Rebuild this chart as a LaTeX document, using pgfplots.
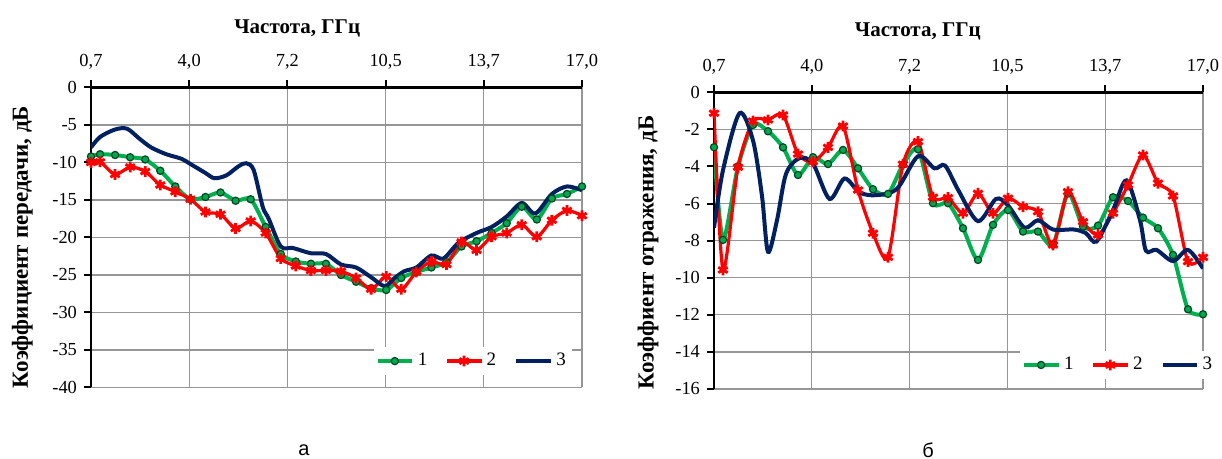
\documentclass[border=0pt]{standalone}
\usepackage{fontspec}
\setmainfont{Liberation Serif}
\newfontfamily\arialfont{Liberation Sans}
\usepackage{pgfplots}
\pgfplotsset{compat=1.18}
\definecolor{cgreen}{RGB}{0,176,80}
\definecolor{cgreenfill}{RGB}{0,166,81}
\definecolor{cgreenedge}{RGB}{0,70,30}
\definecolor{cred}{RGB}{255,0,0}
\definecolor{cblue}{RGB}{0,32,96}
\definecolor{cgrid}{RGB}{150,150,150}
\pgfplotsset{
  base/.style={
    scale only axis,
    xmin=0.7, xmax=17.0,
    axis x line*=top, axis y line*=left,
    axis line style={black, line width=1.4pt},
    xtick={0.7,3.96,7.22,10.48,13.74,17.0},
    xticklabels={{0,7},{4,0},{7,2},{10,5},{13,7},{17,0}},
    grid=major, grid style={cgrid, line width=0.6pt},
    tick align=outside, major tick length=3.5pt,
    tick style={black, line width=1pt},
    ticklabel style={font=\fontsize{9.2}{10}\selectfont},
    xticklabel style={yshift=2pt},
    /pgf/number format/assume math mode=true,
    xlabel style={font=\bfseries\fontsize{10.5}{12}\selectfont},
    ylabel style={font=\bfseries\fontsize{11.5}{13}\selectfont},
    legend columns=3,
    legend cell align=left,
    legend style={draw=none, fill=white, font=\fontsize{9.5}{11}\selectfont, inner sep=1pt,
      /tikz/every even column/.append style={column sep=7pt}},
  },
  gstyle/.style={cgreen, line width=2pt, smooth, tension=0.45, mark=*, mark size=1.8pt,
    mark options={fill=cgreenfill, draw=cgreenedge, line width=0.6pt, solid}},
  rstyle/.style={cred, line width=1.6pt, smooth, tension=0.45, mark=asterisk, mark size=2.7pt,
    mark options={cred, line width=1.4pt, solid}},
  bstyle/.style={cblue, line width=2pt, smooth, tension=0.5, no markers},
}
\begin{document}
\begin{tikzpicture}
\path[use as bounding box] (0pt,0pt) rectangle (611pt,229.5pt);
% ---------------- left chart
\begin{axis}[base,
  at={(45.5pt,35.75pt)}, anchor=south west, width=245.5pt, height=150pt,
  ymin=-40, ymax=0, ytick={-40,-35,...,0},
  xlabel={Частота, ГГц},
  xlabel style={at={(axis description cs:0.42,1)}, anchor=center, yshift=29.75pt},
  ylabel={Коэффициент передачи, дБ},
  ylabel style={at={(axis description cs:-0.14,0.468)}, anchor=center},
  legend style={at={(axis description cs:0.575,0.088)}, anchor=west},
]
\addplot[gstyle] coordinates {
(0.7,-9.2)(1.0,-8.9)(1.5,-9.0)(2.0,-9.3)(2.5,-9.6)(3.0,-11.1)(3.5,-13.2)(4.0,-14.9)
(4.5,-14.6)(5.0,-14.0)(5.5,-15.1)(6.0,-14.9)(6.5,-18.6)(7.0,-22.2)(7.5,-23.2)(8.0,-23.5)
(8.5,-23.5)(9.0,-25.0)(9.5,-25.9)(10.0,-26.8)(10.5,-27.0)(11.0,-25.4)(11.5,-24.6)(12.0,-24.0)
(12.5,-23.3)(13.0,-21.2)(13.5,-20.5)(14.0,-19.4)(14.5,-18.1)(15.0,-15.9)(15.5,-17.6)(16.0,-14.8)
(16.5,-14.2)(17.0,-13.2)};
\addlegendentry{1}
\addplot[rstyle] coordinates {
(0.7,-10.0)(1.0,-9.9)(1.5,-11.6)(2.0,-10.6)(2.5,-11.2)(3.0,-13.0)(3.5,-13.9)(4.0,-14.9)
(4.5,-16.6)(5.0,-16.9)(5.5,-18.8)(6.0,-17.8)(6.5,-19.4)(7.0,-22.8)(7.5,-23.8)(8.0,-24.4)
(8.5,-24.4)(9.0,-24.5)(9.5,-25.4)(10.0,-26.9)(10.5,-25.2)(11.0,-26.9)(11.5,-24.6)(12.0,-23.2)
(12.5,-23.6)(13.0,-20.6)(13.5,-21.7)(14.0,-19.9)(14.5,-19.4)(15.0,-18.3)(15.5,-19.9)(16.0,-17.7)
(16.5,-16.4)(17.0,-17.1)};
\addlegendentry{2}
\addplot[bstyle] coordinates {
(0.7,-8.0)(1.0,-6.6)(1.5,-5.6)(1.9,-5.5)(2.3,-6.8)(2.7,-8.0)(3.2,-8.9)(3.7,-9.5)(4.0,-10.2)
(4.5,-11.4)(4.8,-12.1)(5.2,-11.7)(5.6,-10.5)(5.85,-10.1)(6.1,-11.0)(6.4,-15.9)(6.6,-17.5)
(7.0,-21.2)(7.4,-21.4)(8.0,-22.1)(8.5,-22.2)(9.0,-23.6)(9.5,-24.0)(10.0,-25.3)(10.45,-26.5)
(10.75,-25.5)(11.1,-24.5)(11.5,-24.0)(12.0,-22.4)(12.4,-22.8)(12.9,-20.7)(13.5,-19.4)
(14.0,-18.6)(14.5,-17.2)(15.0,-15.4)(15.45,-16.8)(16.0,-14.2)(16.5,-13.2)(17.0,-13.7)};
\addlegendentry{3}
\end{axis}
% ---------------- right chart
\begin{axis}[base,
  at={(357pt,35pt)}, anchor=south west, width=244.5pt, height=148.35pt,
  ymin=-16, ymax=0, ytick={-16,-14,...,0},
  xlabel={Частота, ГГц},
  xlabel style={at={(axis description cs:0.417,1)}, anchor=center, yshift=30.5pt},
  ylabel={Коэффиент отражения, дБ},
  ylabel style={at={(axis description cs:-0.135,0.46)}, anchor=center},
  legend style={at={(axis description cs:0.625,0.081)}, anchor=west},
]
\addplot[gstyle] coordinates {
(0.7,-2.96)(1.0,-7.96)(1.5,-4.0)(2.0,-1.76)(2.5,-2.1)(3.0,-2.97)(3.5,-4.46)(4.0,-3.5)
(4.5,-3.87)(5.0,-3.11)(5.5,-4.1)(6.0,-5.23)(6.5,-5.48)(7.0,-3.9)(7.5,-3.07)(8.0,-5.98)
(8.5,-5.98)(9.0,-7.33)(9.5,-9.04)(10.0,-7.15)(10.5,-6.35)(11.0,-7.51)(11.5,-7.51)(12.0,-8.23)
(12.5,-5.45)(13.0,-7.24)(13.5,-7.19)(14.0,-5.66)(14.5,-5.86)(15.0,-6.76)(15.5,-7.33)(16.0,-8.77)
(16.5,-11.7)(17.0,-11.97)};
\addlegendentry{1}
\addplot[rstyle] coordinates {
(0.7,-1.13)(1.0,-9.58)(1.5,-4.04)(2.0,-1.55)(2.5,-1.49)(3.0,-1.22)(3.5,-3.33)(4.0,-3.74)
(4.5,-2.97)(5.0,-1.82)(5.5,-5.27)(6.0,-7.6)(6.5,-8.9)(7.0,-3.88)(7.5,-2.66)(8.0,-5.66)
(8.5,-5.68)(9.0,-6.52)(9.5,-5.45)(10.0,-6.52)(10.5,-5.71)(11.0,-6.17)(11.5,-6.44)(12.0,-8.23)
(12.5,-5.36)(13.0,-6.98)(13.5,-7.69)(14.0,-6.52)(14.5,-5.0)(15.0,-3.38)(15.5,-4.9)(16.0,-5.59)
(16.5,-9.13)(17.0,-8.9)};
\addlegendentry{2}
\addplot[bstyle] coordinates {
(0.7,-7.3)(1.0,-4.2)(1.55,-1.13)(2.0,-2.6)(2.3,-5.6)(2.5,-8.6)(2.8,-6.9)(3.1,-4.4)(3.55,-3.55)
(4.0,-3.85)(4.55,-5.75)(5.05,-4.65)(5.55,-5.4)(6.1,-5.55)(6.8,-5.2)(7.5,-3.45)(8.05,-4.1)
(8.4,-3.95)(8.85,-5.3)(9.5,-6.95)(10.1,-5.75)(10.5,-6.1)(11.05,-7.3)(11.5,-6.9)(12.0,-7.4)
(12.7,-7.4)(13.1,-7.6)(13.45,-8.05)(14.0,-6.35)(14.45,-4.75)(14.9,-6.9)(15.1,-8.55)(15.45,-8.5)
(16.0,-9.1)(16.5,-8.5)(17.0,-9.5)};
\addlegendentry{3}
\end{axis}
\node[font=\arialfont\fontsize{10}{12}\selectfont] at (152pt,4.5pt) {а};
\node[font=\arialfont\fontsize{10}{12}\selectfont] at (464pt,4.5pt) {б};
\end{tikzpicture}
\end{document}
